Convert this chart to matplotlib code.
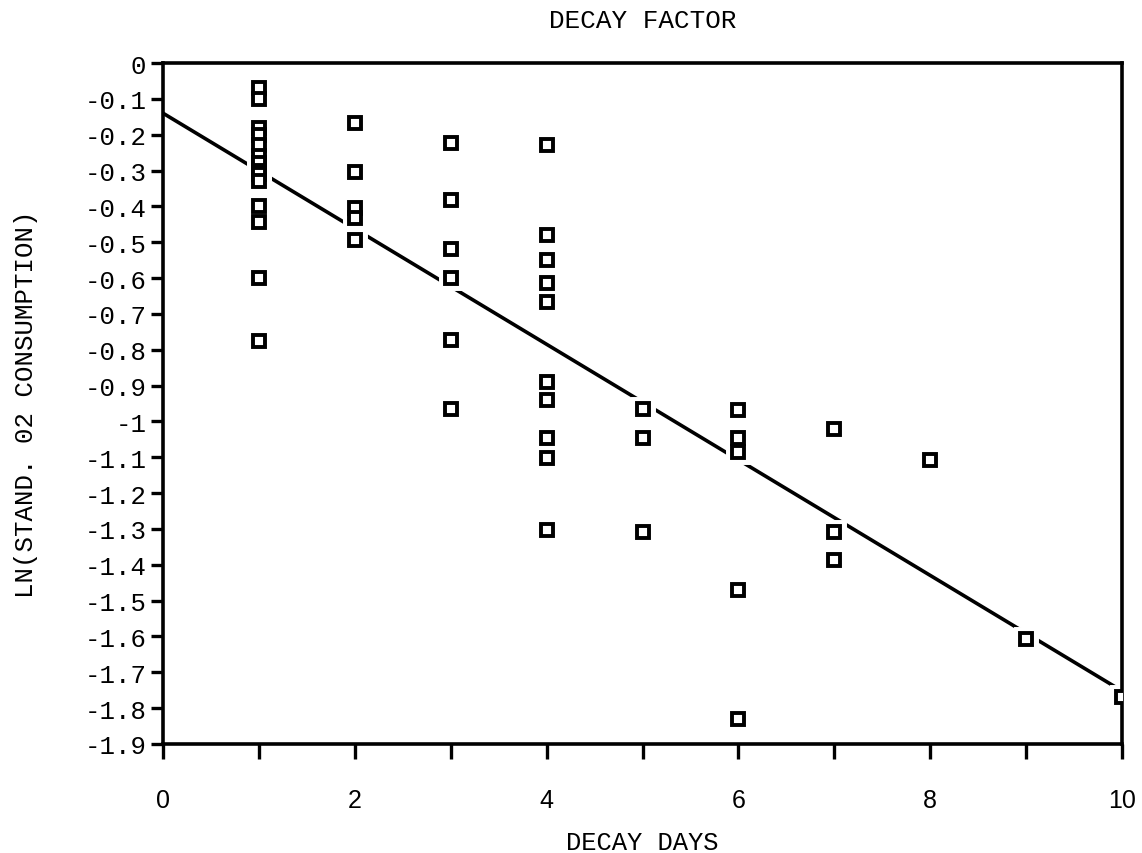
import numpy as np
import matplotlib
matplotlib.use("Agg")
import matplotlib.pyplot as plt

OUT = "out.png"

# decay days and ln(standardised O2 consumption) per sample
days = [1] * 14 + [2] * 5 + [3] * 6 + [4] * 10 + [5] * 3 + [6] * 5 + [7] * 3 + [8, 9, 10]
ln_o2 = [
    # day 1
    -0.07, -0.10, -0.18, -0.20, -0.23, -0.26, -0.28, -0.30, -0.31, -0.33,
    -0.40, -0.445, -0.60, -0.775,
    # day 2
    -0.168, -0.305, -0.405, -0.433, -0.494,
    # day 3
    -0.223, -0.383, -0.52, -0.60, -0.774, -0.964,
    # day 4
    -0.228, -0.481, -0.55, -0.614, -0.666, -0.89, -0.94, -1.047, -1.103, -1.304,
    # day 5
    -0.964, -1.047, -1.308,
    # day 6
    -0.968, -1.047, -1.085, -1.471, -1.83,
    # day 7
    -1.02, -1.308, -1.387,
    # days 8-10
    -1.108, -1.606, -1.768,
]

# fitted line endpoints
fit_x = [0, 10]
fit_intercept = -0.14
fit_slope = -0.1612

MONO = "Liberation Mono"

fig = plt.figure(figsize=(11.42, 8.54), dpi=100)
ax = fig.add_axes([163 / 1142, 1 - 745 / 854, (1122 - 163) / 1142, (745 - 64) / 854])

fy = [fit_intercept + fit_slope * x for x in fit_x]
ax.plot(fit_x, fy, color="black", lw=2.6, zorder=1, solid_capstyle="butt")
# white halo so the line breaks around each marker
ax.plot(days, ln_o2, ls="none", marker="s", ms=13, mfc="white", mec="white",
        mew=5, zorder=2)
ax.plot(days, ln_o2, ls="none", marker="s", ms=9, mfc="white", mec="black",
        mew=2.8, zorder=3)

ax.set_xlim(0, 10)
ax.set_ylim(-1.9, 0)
ax.set_xticks(np.arange(0, 11, 1))
ax.set_xticklabels([str(v) if v % 2 == 0 else "" for v in range(11)],
                   family="Liberation Sans", fontsize=18)
yt = np.round(np.arange(0, -1.95, -0.1), 1)
ax.set_yticks(yt)
ax.set_yticklabels(["0" if v == 0 else ("-1" if v == -1 else f"{v:g}") for v in yt],
                   family=MONO, fontsize=18.5)
ax.tick_params(axis="x", direction="out", length=11, width=2.4, pad=21)
ax.tick_params(axis="y", direction="out", length=9, width=2.4, pad=3)
for s in ax.spines.values():
    s.set_linewidth(2.6)

ax.set_title("DECAY FACTOR", family=MONO, fontsize=18.7, pad=26)
ax.set_xlabel("DECAY DAYS", family=MONO, fontsize=18.4, labelpad=13)
ax.set_ylabel("LN(STAND. 02 CONSUMPTION)", family=MONO, fontsize=18.5, labelpad=33)

fig.savefig(OUT, dpi=100)
